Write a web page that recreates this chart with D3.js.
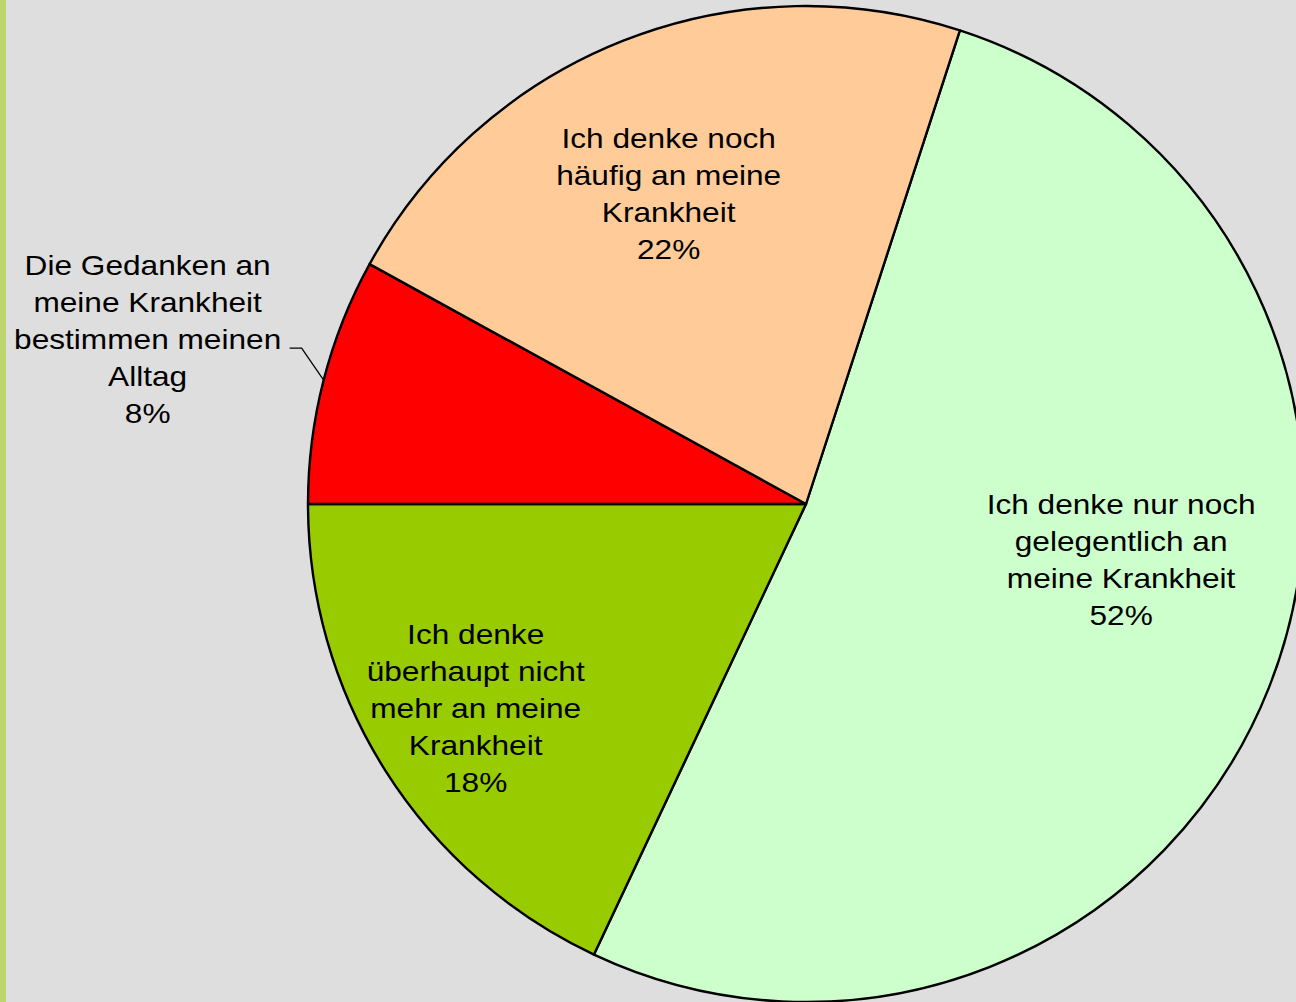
<!DOCTYPE html>
<html>
<head>
<meta charset="utf-8">
<script src="https://cdn.jsdelivr.net/npm/d3@7/dist/d3.min.js"></script>
<style>
  html, body { margin: 0; padding: 0; background: #dedede; }
  svg { display: block; }
  text { font-family: "Liberation Sans", Arial, sans-serif; font-size: 28px; fill: #000; }
</style>
</head>
<body>
<svg id="chart" width="1296" height="1002"></svg>
<script>
// Survey answers, in drawing order (clockwise from the first slice)
const categories = [
  ["Ich denke nur noch", "gelegentlich an", "meine Krankheit"],
  ["Ich denke", "überhaupt nicht", "mehr an meine", "Krankheit"],
  ["Die Gedanken an", "meine Krankheit", "bestimmen meinen", "Alltag"],
  ["Ich denke noch", "häufig an meine", "Krankheit"]
];
const values = [52, 18, 8, 22];
const colors = ["#ccffcc", "#99cc00", "#ff0000", "#ffcc99"];

// Label layout: inside labels sit near the arc centroid, the small slice gets an outside label with a leader
const W = 1296, H = 1002;
const cx = 806, cy = 504, R = 498;
const lineH = 37;
const stretch = 1.13;
const startDeg = 18;
const labelLayout = [
  { inside: true, k: 0.7, dx: -9, dy: -73 },
  { inside: true, k: 0.7, dx: -36, dy: 17 },
  { inside: false, k: 1.0, dx: -176, dy: -41, elbow: [-22, -32], tail: 12 },
  { inside: true, k: 0.7, dx: -9, dy: 14 }
];

const svg = d3.select("#chart");
svg.append("rect").attr("width", W).attr("height", H).attr("fill", "#dedede");
svg.append("rect").attr("x", 0).attr("y", 0).attr("width", 6).attr("height", H).attr("fill", "#bdd66f");

const data = values.map((v, i) => ({ value: v, lines: categories[i], color: colors[i], layout: labelLayout[i] }));

const start = startDeg * Math.PI / 180;
const pie = d3.pie().value(d => d.value).sort(null)
  .startAngle(start).endAngle(start + 2 * Math.PI);
const arcs = pie(data);
const arc = d3.arc().innerRadius(0).outerRadius(R);

const g = svg.append("g").attr("transform", `translate(${cx},${cy})`);

g.selectAll("path.slice")
  .data(arcs)
  .join("path")
  .attr("class", "slice")
  .attr("d", arc)
  .attr("fill", d => d.data.color)
  .attr("stroke", "#000")
  .attr("stroke-width", 2.4)
  .attr("stroke-linejoin", "round");

function polar(angle, r) {
  return [r * Math.sin(angle), -r * Math.cos(angle)];
}

arcs.forEach(a => {
  const L = a.data.layout;
  const mid = (a.startAngle + a.endAngle) / 2;
  const base = polar(mid, R * L.k);
  const ax = base[0] + L.dx, ay = base[1] + L.dy;
  const lines = a.data.lines.concat([Math.round(a.value) + "%"]);
  const n = lines.length;
  const firstBaseline = ay - (n - 1) * lineH / 2 + 10;

  const lg = g.append("g").attr("transform", `translate(${ax},${firstBaseline}) scale(${stretch},1)`);
  lg.selectAll("text")
    .data(lines)
    .join("text")
    .attr("x", 0)
    .attr("y", (d, i) => i * lineH)
    .attr("text-anchor", "middle")
    .text(d => d);

  if (!L.inside) {
    const p0 = polar(mid, R);
    const p1 = [p0[0] + L.elbow[0], p0[1] + L.elbow[1]];
    const p2 = [p1[0] - L.tail, p1[1]];
    g.append("path")
      .attr("d", d3.line()([p0, p1, p2]))
      .attr("fill", "none")
      .attr("stroke", "#000")
      .attr("stroke-width", 1.3);
  }
});
</script>
</body>
</html>
